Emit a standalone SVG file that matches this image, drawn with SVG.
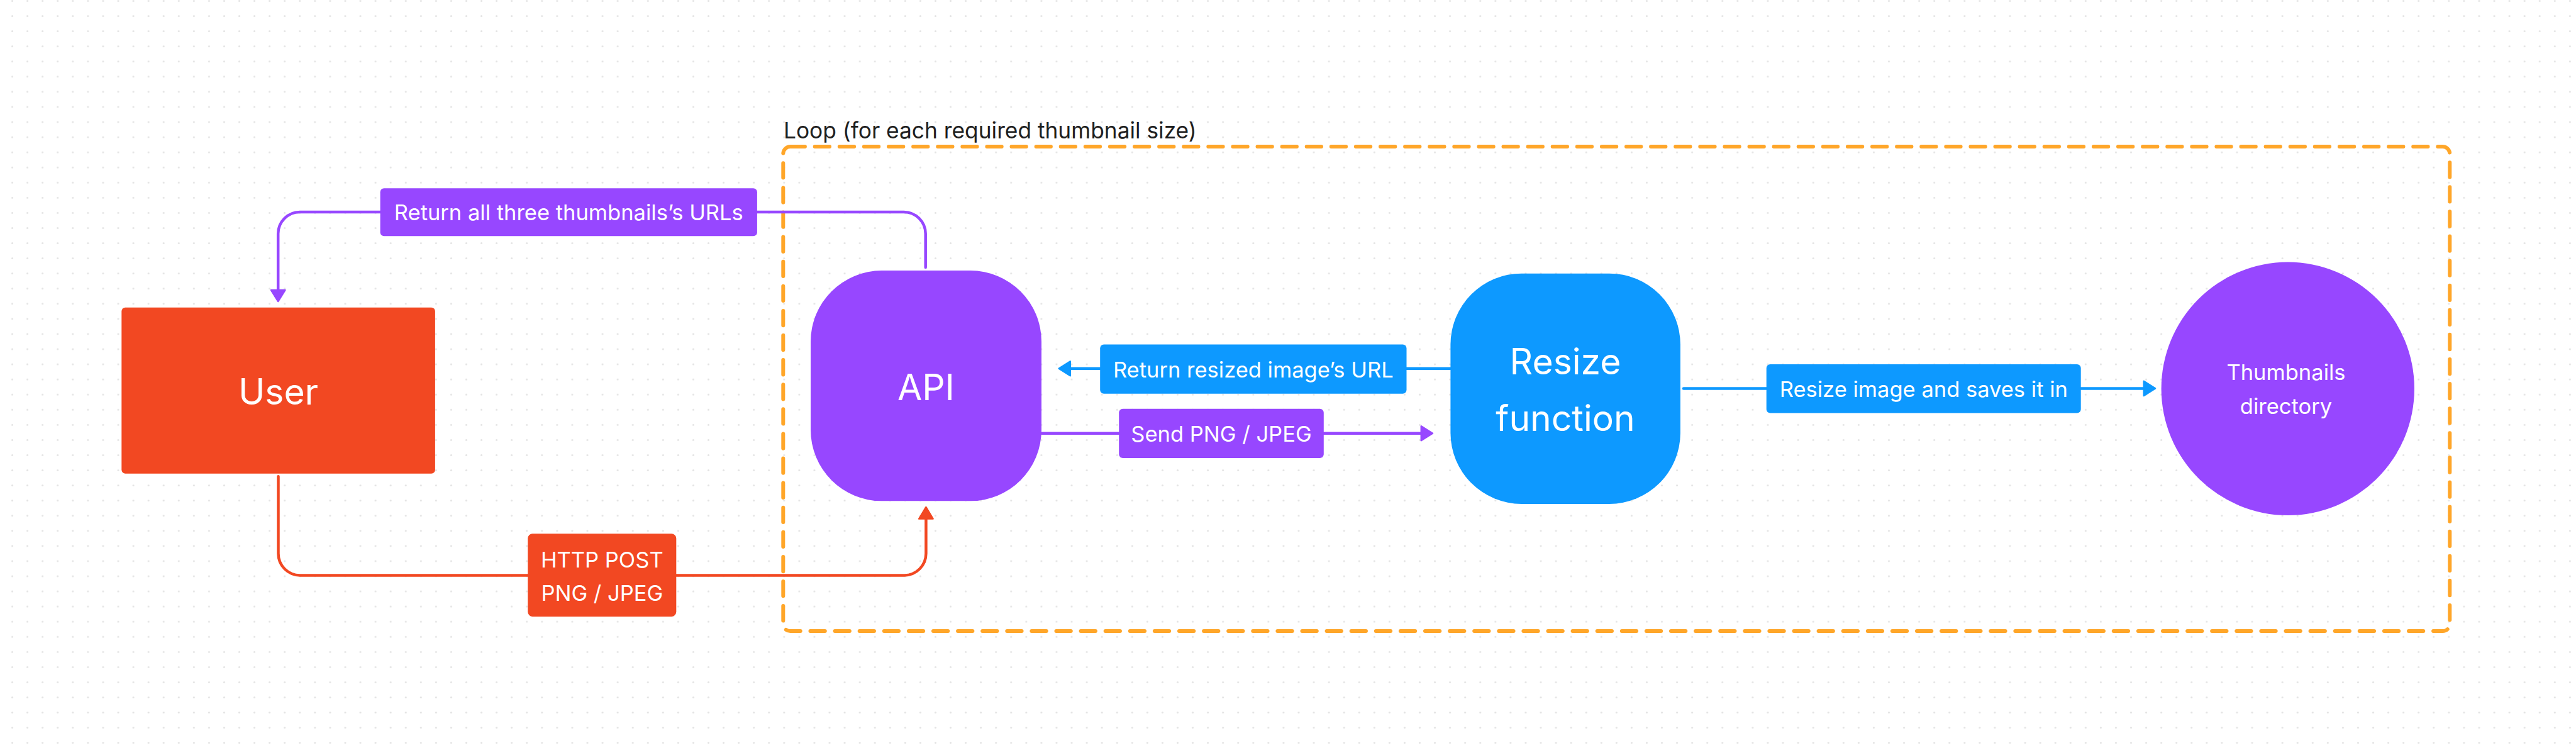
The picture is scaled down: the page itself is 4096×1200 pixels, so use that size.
<svg xmlns="http://www.w3.org/2000/svg" width="4096" height="1200" viewBox="0 0 4096 1200">
<defs>
<pattern id="dots" patternUnits="userSpaceOnUse" x="7.52" y="-10.53" width="24.064" height="24.064">
<circle cx="12.032" cy="12.032" r="1.5" fill="#e3e3e3"/>
</pattern>
<style>
.node-text{font-family:Inter,"Noto Sans","Liberation Sans",sans-serif;font-size:57px;fill:#ffffff;text-anchor:middle}
.lbl-text{font-family:Inter,"Noto Sans","Liberation Sans",sans-serif;font-size:34.5px;fill:#ffffff;text-anchor:middle}
.conn{fill:none;stroke-width:4.5;stroke-linecap:round;stroke-linejoin:round}
.head{stroke-width:2.5;stroke-linejoin:round}
.red{stroke:#F24822}
.purple{stroke:#9747FF}
.blue{stroke:#0D99FF}
</style>
</defs>
<rect x="0" y="0" width="4096" height="1200" fill="#ffffff"/>
<rect x="0" y="0" width="4096" height="1200" fill="url(#dots)"/>

<g id="loop">
<rect x="1245.3" y="233.1" width="2650" height="770" rx="11.3" fill="none" stroke="#FFA629" stroke-width="6" stroke-dasharray="23.3 15.8" stroke-linecap="round"/>
<text x="1246" y="219.6" font-family="Inter, 'Noto Sans', 'Liberation Sans', sans-serif" font-size="35.3" fill="#1E1E1E">Loop (for each required thumbnail size)</text>
</g>

<g id="connectors">
<path class="conn purple" d="M1471.7 424.9 V371.5 A34.6 34.6 0 0 0 1437.1 336.9 H476.8 A34.6 34.6 0 0 0 442.2 371.5 V463"/>
<polygon class="head purple" fill="#9747FF" points="442.2,479 431,461 453.4,461"/>

<path class="conn red" d="M442.5 757.3 V879.8 A34.6 34.6 0 0 0 477.1 914.4 H1437.8 A34.6 34.6 0 0 0 1472.4 879.8 V823"/>
<polygon class="head red" fill="#F24822" points="1472.4,806 1461.2,824.6 1483.6,824.6"/>

<path class="conn blue" d="M2306.4 585.8 H1700"/>
<polygon class="head blue" fill="#0D99FF" points="1683.6,585.8 1701.8,574.3 1701.8,597.3"/>

<path class="conn purple" d="M1656 688.8 H2261"/>
<polygon class="head purple" fill="#9747FF" points="2278,688.8 2259.8,677.3 2259.8,700.3"/>

<path class="conn blue" d="M2677 617.4 H3410"/>
<polygon class="head blue" fill="#0D99FF" points="3427,617.4 3408.8,605.9 3408.8,628.9"/>

<g id="label-return-all">
<rect x="604.6" y="299.3" width="599.3" height="76" rx="6" fill="#9747FF"/>
<text class="lbl-text" x="904.3" y="350">Return all three thumbnails’s URLs</text>
</g>
<g id="label-return-resized">
<rect x="1749.2" y="547.5" width="487.3" height="78.2" rx="6" fill="#0D99FF"/>
<text class="lbl-text" x="1992.8" y="599.6">Return resized image’s URL</text>
</g>
<g id="label-send">
<rect x="1779.2" y="649.7" width="325.6" height="78.2" rx="6" fill="#9747FF"/>
<text class="lbl-text" x="1942" y="701.6">Send PNG / JPEG</text>
</g>
<g id="label-resize-save">
<rect x="2808.7" y="579" width="500" height="77.5" rx="6" fill="#0D99FF"/>
<text class="lbl-text" x="3058.8" y="630.6">Resize image and saves it in</text>
</g>
<g id="label-http">
<rect x="839.2" y="848.3" width="236.1" height="131.6" rx="7.5" fill="#F24822"/>
<text class="lbl-text" x="957.3" y="901.6">HTTP POST</text>
<text class="lbl-text" x="957.3" y="955">PNG / JPEG</text>
</g>
</g>

<g id="node-user">
<rect x="193.3" y="488.8" width="498.6" height="264" rx="6" fill="#F24822"/>
<text class="node-text" x="442.5" y="643">User</text>
</g>

<g id="node-api">
<rect x="1289" y="430.1" width="367" height="366.2" rx="113" fill="#9747FF"/>
<text class="node-text" x="1472.4" y="636.4">API</text>
</g>

<g id="node-resize">
<rect x="2306.4" y="434.7" width="365.5" height="366.2" rx="113" fill="#0D99FF"/>
<text class="node-text" x="2489" y="594.8">Resize</text>
<text class="node-text" x="2489" y="685">function</text>
</g>

<g id="node-thumbnails">
<circle cx="3637.8" cy="617.8" r="201.2" fill="#9747FF"/>
<text class="lbl-text" x="3635" y="603.9">Thumbnails</text>
<text class="lbl-text" x="3635" y="658">directory</text>
</g>
</svg>
